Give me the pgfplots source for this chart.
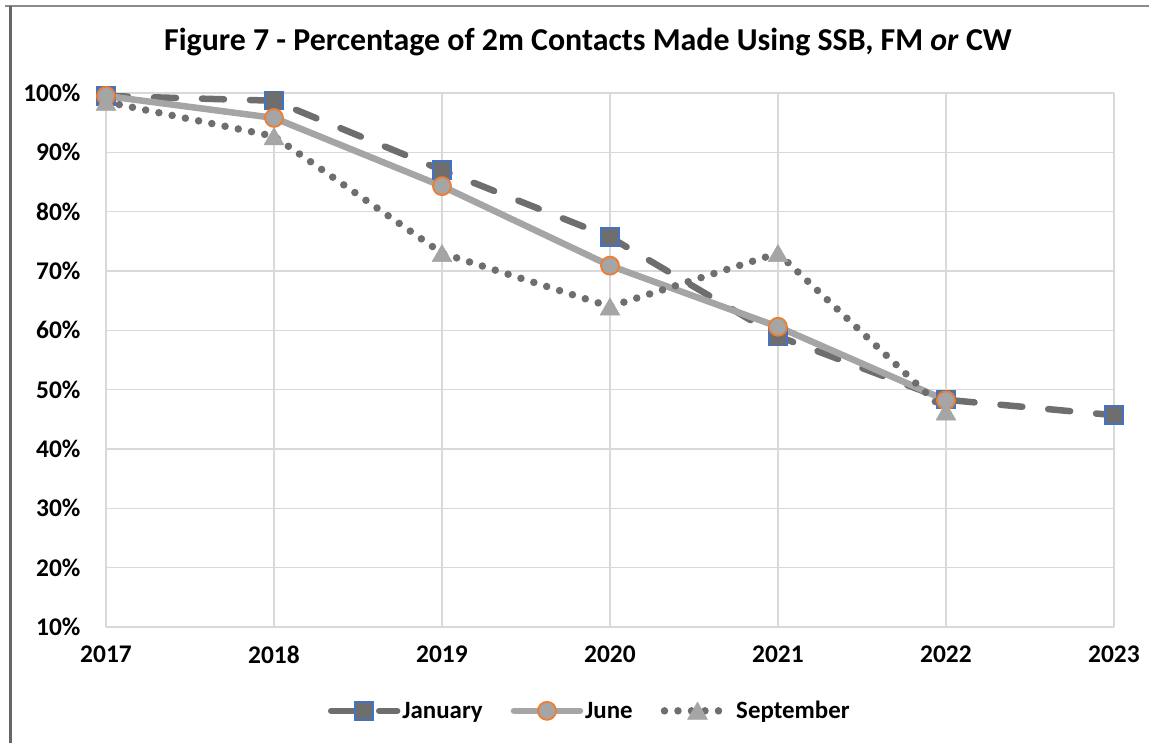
\documentclass[border=0pt]{standalone}
\usepackage{pgfplots}
\pgfplotsset{compat=1.18}
\usepackage{fontspec}
\setmainfont{Carlito}
\definecolor{jan}{HTML}{6E6E6E}
\definecolor{janedge}{HTML}{4472C4}
\definecolor{jun}{HTML}{A5A5A5}
\definecolor{junedge}{HTML}{ED7D31}
\definecolor{gridc}{HTML}{D9D9D9}
\definecolor{framec}{HTML}{8C8C8C}
\begin{document}
\begin{tikzpicture}[x=1bp,y=1bp]
\path[use as bounding box] (0,0) rectangle (1149,743);
\draw[framec, line width=2bp] (5,737) -- (1149,737);
\draw[black!60, line width=3bp] (10,737) -- (10,0);
\node[font=\fontsize{32}{38}\selectfont\bfseries, anchor=base, inner sep=0pt] at (588,692) {Figure 7 - Percentage of 2m Contacts Made Using SSB, FM \textit{or} CW};
\begin{axis}[
  at={(106bp,116bp)}, anchor=south west,
  scale only axis, width=1008bp, height=534bp,
  xmin=2017, xmax=2023, ymin=10, ymax=100,
  xtick={2017,2018,...,2023}, ytick={10,20,...,100},
  xticklabel={\pgfmathprintnumber[1000 sep={},fixed,precision=0]{\tick}},
  yticklabel={\pgfmathprintnumber{\tick}\%},
  /pgf/number format/assume math mode=true,
  tick label style={font=\fontsize{25.5}{30}\selectfont\bfseries, text=black},
  yticklabel style={xshift=-22bp},
  xticklabel style={yshift=-15bp},
  major tick length=0pt,
  axis line style={draw=none},
  grid=major,
  grid style={gridc, line width=1.6bp},
  clip=false,
  legend columns=3,
  legend style={draw=none, fill=none, at={(0.48,-0.157)}, anchor=center,
    font=\fontsize{25}{30}\selectfont\bfseries, inner sep=0pt,
    /tikz/every even column/.append style={column sep=26bp}},
  legend image code/.code={\draw[mark repeat=2,mark phase=2] plot coordinates {(0bp,0bp) (33bp,0bp) (66bp,0bp)};},
]
\addplot[jan, line width=6.5bp, dash pattern=on 22bp off 26bp, line cap=round,
  mark=square*, mark size=9bp, mark options={solid, fill=jan, draw=janedge, line width=1.5bp}]
  coordinates {(2017,99.5) (2018,98.7) (2019,87) (2020,75.7) (2021,59) (2022,48.3) (2023,45.7)};
\addlegendentry{January}
\addplot[jun, line width=6.5bp, line cap=round,
  mark=*, mark size=9bp, mark options={solid, fill=jun, draw=junedge, line width=1.8bp}]
  coordinates {(2017,99.5) (2018,95.8) (2019,84.3) (2020,70.9) (2021,60.6) (2022,48.2)};
\addlegendentry{June}
\addplot[jan, line width=7.5bp, dash pattern=on 0bp off 13.5bp, line cap=round,
  mark=triangle*, mark size=11.5bp, mark options={solid, fill=jun, draw=jun, line width=0.5bp, yshift=-2.8bp}]
  coordinates {(2017,98.5) (2018,92.7) (2019,73) (2020,64) (2021,73) (2022,46.3)};
\addlegendentry{September}
\end{axis}
\end{tikzpicture}
\end{document}
